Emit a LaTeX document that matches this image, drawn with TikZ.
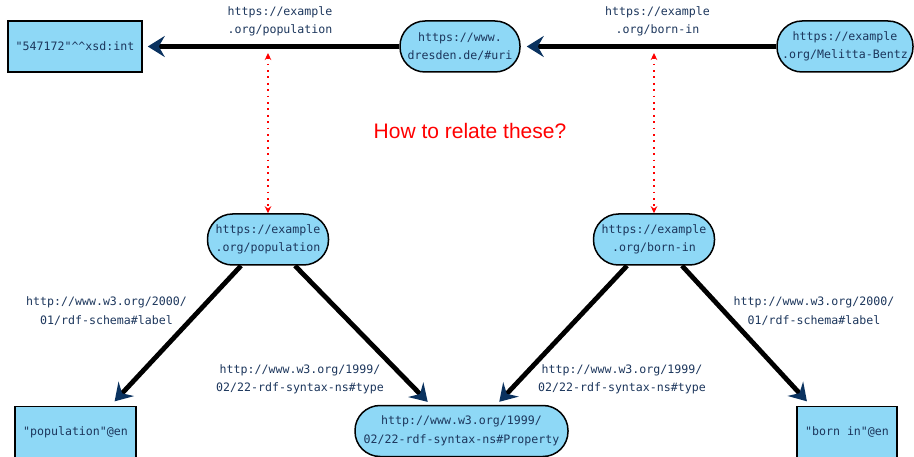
\documentclass[tikz,border=0pt]{standalone}
\usepackage{fontspec}
\setmonofont{DejaVu Sans Mono}
\setsansfont{Liberation Sans}
\usetikzlibrary{arrows.meta}
\definecolor{nodefill}{RGB}{142,216,246}
\definecolor{txt}{RGB}{28,54,92}
\definecolor{tipc}{RGB}{10,50,95}
\begin{document}
\begin{tikzpicture}[x=1pt,y=-1pt,
  every node/.style={font=\ttfamily\fontsize{11.6}{18.5}\selectfont, text=txt, align=center, inner sep=0pt},
  pill/.style={rectangle, rounded corners=25pt, draw=black, line width=1.5pt, fill=nodefill, minimum height=51pt},
  sq/.style={rectangle, draw=black, line width=1.5pt, fill=nodefill, minimum height=51pt},
  rel/.style={line width=4.8pt, black, -{Stealth[color=tipc,length=17pt,width=21pt,inset=6pt]}},
  ask/.style={red, line width=1.8pt, dash pattern=on 1.8pt off 4.6pt, {Stealth[length=7pt,width=6.5pt]}-{Stealth[length=7pt,width=6.5pt]}},
  lbl/.style={}
]
\path[use as bounding box] (0,0) rectangle (914,457);

% nodes
\node[sq, minimum width=134pt] (lit) at (75,46.5) {"547172"\textasciicircum\textasciicircum xsd:int};
\node[pill, minimum width=120pt] (dres) at (460,46.5) {https://www.\\dresden.de/\#uri};
\node[pill, minimum width=136pt] (mel) at (845,46.5) {https://example\\.org/Melitta-Bentz};
\node[pill, minimum width=121pt] (pop) at (268,239.5) {https://example\\.org/population};
\node[pill, minimum width=121pt] (born) at (654,239.5) {https://example\\.org/born-in};
\node[pill, minimum width=213pt] (prop) at (461.5,431) {http://www.w3.org/1999/\\02/22-rdf-syntax-ns\#Property};
\node[sq, minimum width=121pt] (popen) at (75.5,432) {"population"@en};
\node[sq, minimum width=100pt] (bornen) at (847,432) {"born in"@en};

\node[font=\sffamily\fontsize{21}{25}\selectfont, text=red] (q) at (470,131) {How to relate these?};

% labels
\node[lbl] (l1) at (280,21.5) {https://example\\.org/population};
\node[lbl] (l2) at (657.5,21.5) {https://example\\.org/born-in};
\node[lbl] (l3) at (106.5,311) {http://www.w3.org/2000/\\01/rdf-schema\#label};
\node[lbl] (l4) at (300,379.5) {http://www.w3.org/1999/\\02/22-rdf-syntax-ns\#type};
\node[lbl] (l5) at (622,379.5) {http://www.w3.org/1999/\\02/22-rdf-syntax-ns\#type};
\node[lbl] (l6) at (814,311) {http://www.w3.org/2000/\\01/rdf-schema\#label};

% edges
\draw[rel, shorten >=5pt] (dres.west) -- (lit.east);
\draw[rel, shorten >=6pt] (mel.west) -- (dres.east);
\draw[rel, shorten >=6pt] ([xshift=-27pt]pop.south) -- ([xshift=35pt]popen.north);
\draw[rel, shorten >=4pt] ([xshift=27pt]pop.south) -- ([xshift=-31pt]prop.north);
\draw[rel, shorten >=4pt] ([xshift=-27pt]born.south) -- ([xshift=35pt]prop.north);
\draw[rel, shorten >=6pt] ([xshift=28pt]born.south) -- ([xshift=-36pt]bornen.north);

% question arrows
\coordinate (a1) at (268,53);
\coordinate (a2) at (654,53);
\draw[ask] (a1) -- (pop.north);
\draw[ask] (a2) -- (born.north);
\end{tikzpicture}
\end{document}
